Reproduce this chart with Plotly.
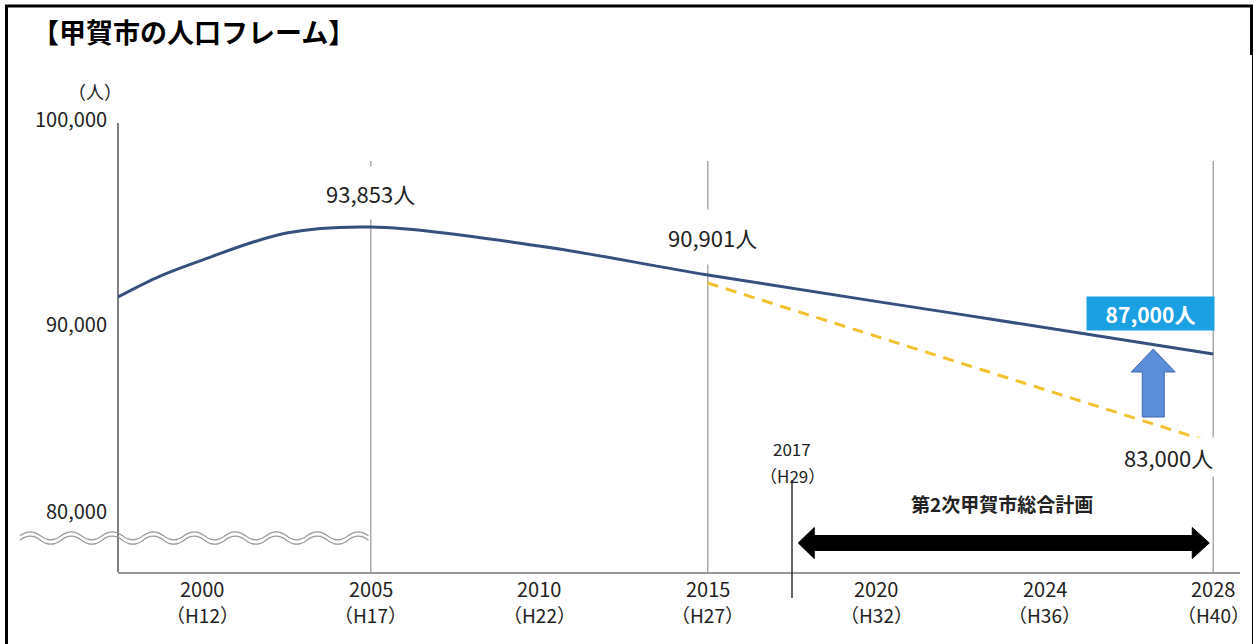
import plotly.graph_objects as go

# ---------------- data ----------------
tick_years = ["2000", "2005", "2010", "2015", "2020", "2024", "2028"]
tick_eras = ["（H12）", "（H17）", "（H22）", "（H27）", "（H32）", "（H36）", "（H40）"]
tick_slots = [1, 2, 3, 4, 5, 6, 7]

# solid population curve (axis slot, persons)
actual_x = [0.5, 0.75, 1.0, 1.5, 2.0, 3.0, 4.0, 5.5, 7.0]
actual_pop = [91270, 92290, 93070, 94390, 94680, 93760, 92340, 90420, 88490]

# dashed trend projection
trend_x = [4.0, 7.0]
trend_pop = [91950, 84150]

value_labels = ["93,853人", "90,901人", "87,000人", "83,000人"]
y_labels = ["100,000", "90,000", "80,000"]

title_text = "【甲賀市の人口フレーム】"
unit_text = "（人）"
plan_text = "第2次甲賀市総合計画"
start_year = ["2017", "（H29）"]
start_slot = 4.5

# ---------------- layout geometry ----------------
FW, FH = 1254, 644
L, R, T, B = 118, 1240, 100, 572
PW, PH = R - L, B - T
Y0, Y1 = 77854, 100878
FONT = "Noto Sans CJK JP, Noto Sans, sans-serif"


def px_x(px):
    return (px - L) / PW


def px_y(py):
    return (B - py) / PH


fig = go.Figure()

fig.add_trace(go.Scatter(
    x=actual_x, y=actual_pop, mode="lines",
    line=dict(color="#34507D", width=3, shape="spline", smoothing=1.0),
    hoverinfo="skip", showlegend=False))

fig.add_trace(go.Scatter(
    x=trend_x, y=trend_pop, mode="lines",
    line=dict(color="#F2C12E", width=3, dash="11px,8px"),
    hoverinfo="skip", showlegend=False))

shapes = []
# frame
shapes.append(dict(type="line", xref="paper", yref="paper",
                   x0=px_x(6.5), x1=px_x(6.5), y0=px_y(5), y1=px_y(660),
                   line=dict(color="black", width=3)))
shapes.append(dict(type="line", xref="paper", yref="paper",
                   x0=px_x(5), x1=px_x(1253), y0=px_y(6), y1=px_y(6),
                   line=dict(color="black", width=3)))
shapes.append(dict(type="line", xref="paper", yref="paper",
                   x0=px_x(1251.5), x1=px_x(1251.5), y0=px_y(5), y1=px_y(55),
                   line=dict(color="black", width=3)))
shapes.append(dict(type="line", xref="paper", yref="paper",
                   x0=px_x(1252.5), x1=px_x(1252.5), y0=px_y(55), y1=px_y(660),
                   line=dict(color="black", width=1)))

# left axis line
shapes.append(dict(type="line", xref="paper", yref="paper",
                   x0=0, x1=0, y0=px_y(123), y1=0,
                   line=dict(color="#555555", width=1.5), layer="below"))
# vertical reference lines at 2005, 2015, 2028
for s in [2, 4, 7]:
    shapes.append(dict(type="line", xref="x", yref="paper",
                       x0=s, x1=s, y0=px_y(161), y1=0,
                       line=dict(color="#AAAAAA", width=1.5), layer="below"))
# 2017 start line
shapes.append(dict(type="line", xref="x", yref="paper",
                   x0=start_slot, x1=start_slot, y0=px_y(480), y1=px_y(598),
                   line=dict(color="#333333", width=1.5)))

# wavy axis-break line (double)
for off in (-2.2, 2.2):
    yy = 538 + off
    x = 20.0
    half = 20.5
    d = f"M {px_x(x)},{px_y(yy)} Q {px_x(x + half / 2)},{px_y(yy - 8)} {px_x(x + half)},{px_y(yy)}"
    x += half
    for _ in range(16):
        x += half
        d += f" T {px_x(x)},{px_y(yy)}"
    shapes.append(dict(type="path", xref="paper", yref="paper", path=d,
                       line=dict(color="#9A9A9A", width=1.2)))

# double-headed black arrow (plan period), pixel sized, anchored at 2028
arrow_d = ("M -415,0 L -399,15.5 L -399,7.5 L -21,7.5 L -21,15.5 L -4,0 "
           "L -21,-15.5 L -21,-7.5 L -399,-7.5 L -399,-15.5 Z")
shapes.append(dict(type="path", xref="x", yref="paper",
                   xsizemode="pixel", ysizemode="pixel",
                   xanchor=7, yanchor=px_y(543), path=arrow_d,
                   fillcolor="black", line=dict(color="black", width=1)))

# blue up arrow
up_d = ("M -60,0 L -82,-23 L -71,-23 L -71,-68 L -49,-68 L -49,-23 L -38,-23 Z")
shapes.append(dict(type="path", xref="x", yref="paper",
                   xsizemode="pixel", ysizemode="pixel",
                   xanchor=7, yanchor=px_y(349), path=up_d,
                   fillcolor="#5B8DD9", line=dict(color="#3F6AAE", width=1)))

ann = []
# title
ann.append(dict(text=f"<b>{title_text}</b>", xref="paper", yref="paper",
                x=px_x(30), y=px_y(32), xanchor="left", yanchor="middle",
                showarrow=False, font=dict(family=FONT, size=27, color="black")))
# unit
ann.append(dict(text=unit_text, xref="paper", yref="paper",
                x=px_x(95), y=px_y(91), xanchor="center", yanchor="middle",
                showarrow=False, font=dict(family=FONT, size=18, color="#222")))
# y labels
y_label_px = [118, 323, 510]
for t, py in zip(y_labels, y_label_px):
    ann.append(dict(text=t, xref="paper", yref="paper",
                    x=px_x(109), y=px_y(py), xanchor="right", yanchor="middle",
                    showarrow=False, font=dict(family=FONT, size=20, color="#222")))
# x tick labels
for s, yr, era in zip(tick_slots, tick_years, tick_eras):
    ann.append(dict(text=yr, xref="x", yref="paper", x=s, y=px_y(588),
                    xanchor="center", yanchor="middle", showarrow=False,
                    font=dict(family=FONT, size=20, color="#222")))
    ann.append(dict(text=era, xref="x", yref="paper", x=s, y=px_y(614),
                    xanchor="center", yanchor="middle", showarrow=False,
                    font=dict(family=FONT, size=19, color="#222")))
# 2017 label
ann.append(dict(text=start_year[0], xref="x", yref="paper", x=start_slot, y=px_y(449),
                xanchor="center", yanchor="middle", showarrow=False,
                font=dict(family=FONT, size=17, color="#222")))
ann.append(dict(text=start_year[1], xref="x", yref="paper", x=start_slot, y=px_y(475),
                xanchor="center", yanchor="middle", showarrow=False,
                font=dict(family=FONT, size=17, color="#222")))
# value labels
ann.append(dict(text=value_labels[0], xref="x", yref="paper", x=2, y=px_y(193),
                xanchor="center", yanchor="middle", showarrow=False,
                bgcolor="white", borderpad=10,
                font=dict(family=FONT, size=22, color="#222")))
ann.append(dict(text=value_labels[1], xref="x", yref="paper", x=4.03, y=px_y(237),
                xanchor="center", yanchor="middle", showarrow=False,
                bgcolor="white", borderpad=11,
                font=dict(family=FONT, size=22, color="#222")))
ann.append(dict(text=f"<b>{value_labels[2]}</b>", xref="x", yref="paper", x=7, y=px_y(313.5),
                xanchor="right", yanchor="middle", xshift=2, showarrow=False,
                bgcolor="#1BA1E2", width=121, height=27, borderpad=3,
                font=dict(family=FONT, size=21, color="white")))
ann.append(dict(text=value_labels[3], xref="x", yref="paper", x=7, y=px_y(457),
                xanchor="right", yanchor="middle", xshift=4, showarrow=False,
                bgcolor="white", borderpad=3,
                font=dict(family=FONT, size=22, color="#222")))
# plan label
ann.append(dict(text=f"<b>{plan_text}</b>", xref="paper", yref="paper",
                x=px_x(1002), y=px_y(503), xanchor="center", yanchor="middle",
                showarrow=False, font=dict(family=FONT, size=19, color="#222")))

fig.update_layout(
    width=FW, height=FH,
    margin=dict(l=L, r=FW - R, t=T, b=FH - B, autoexpand=False),
    paper_bgcolor="white", plot_bgcolor="white",
    xaxis=dict(range=[0.5, 0.5 + PW / 168.5], showgrid=False, zeroline=False,
               showticklabels=False, ticks="", showline=True,
               linecolor="#999999", linewidth=1.5, fixedrange=True),
    yaxis=dict(range=[Y0, Y1], visible=False, fixedrange=True),
    shapes=shapes, annotations=ann, showlegend=False,
)

fig.write_html("out.html", config={"displayModeBar": False},
               post_script="document.body.style.margin='0';document.body.style.overflow='hidden';")
